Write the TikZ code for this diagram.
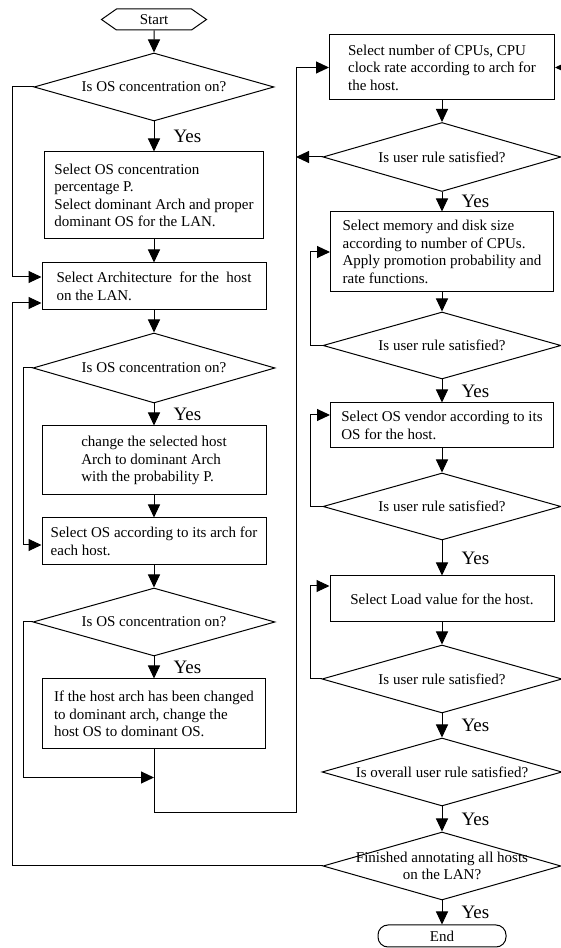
\documentclass[tikz,border=0pt]{standalone}
\usepackage{fontspec}
\setmainfont{Liberation Serif}
\usetikzlibrary{arrows.meta, positioning, shapes.geometric, shapes.symbols}

\begin{document}
\begin{tikzpicture}[x=1pt, y=1pt, on grid, line width=1pt,
    >={Triangle[length=13pt, width=12pt]},
    every node/.style={font=\fontsize{15}{17.5}\selectfont},
    terminal/.style={draw, signal, signal to=east and west, signal pointer angle=70,
        minimum width=105pt, minimum height=21pt, inner sep=0pt},
    stop/.style={draw, rounded corners=10pt, minimum width=128pt, minimum height=22pt, inner sep=0pt},
    box/.style={draw, rectangle, align=left, inner sep=0pt},
    decision/.style={draw, diamond, aspect=3.5, align=center, inner sep=0pt,
        minimum width=240pt, minimum height=68pt},
    yes/.style={right, inner sep=0pt, xshift=19pt, font=\fontsize{19}{19}\selectfont}]
    \useasboundingbox (0,0) rectangle (561,948);
    \clip (0,0) rectangle (561,948);

    \node[terminal] (s_0) at (154,928.5) {Start};
    \node[decision] (d_1) [below=67.5pt of s_0] {Is OS concentration on?};
    \node[box, minimum width=219pt, minimum height=87pt] (p_1) [below=108.5pt of d_1]
        {Select OS concentration\\percentage P.\\Select dominant Arch and proper\\dominant OS for the LAN.};
    \node[box, minimum width=224pt, minimum height=47pt] (p_2) [below=91pt of p_1]
        {Select Architecture~ for the~ host\\on the LAN.};
    \node[decision, minimum width=242pt, minimum height=70pt] (d_2) [below=81.5pt of p_2] {Is OS concentration on?};
    \node[box, minimum width=224pt, minimum height=69pt] (p_3) [below=92.5pt of d_2]
        {change the selected host\\Arch to dominant Arch\\with the probability P.};
    \node[box, minimum width=224pt, minimum height=47pt] (p_4) [below=81pt of p_3]
        {Select OS according to its arch for\\each host.};
    \node[decision, minimum width=242pt] (d_3) [below=80.5pt of p_4] {Is OS concentration on?};
    \node[box, minimum width=223pt, minimum height=70pt] (p_5) [below=92pt of d_3]
        {If the host arch has been changed\\to dominant arch, change the\\host OS to dominant OS.};

    \node[box, minimum width=225pt, minimum height=65pt] (p_6) at (442,880.5)
        {Select number of CPUs, CPU\\clock rate according to arch for\\the host.};
    \node[decision, minimum width=238pt, minimum height=69pt] (d_4) [below=89.5pt of p_6] {Is user rule satisfied?};
    \node[box, minimum width=223pt, minimum height=80pt] (p_7) [below=95pt of d_4]
        {Select memory and disk size\\according to number of CPUs.\\Apply promotion probability and\\rate functions.};
    \node[decision, minimum width=238pt, minimum height=67pt] (d_5) [below=93.5pt of p_7] {Is user rule satisfied?};
    \node[box, minimum width=223pt, minimum height=45pt] (p_8) [below=80pt of d_5]
        {Select OS vendor according to its\\OS for the host.};
    \node[decision, minimum width=238pt, minimum height=67pt] (d_6) [below=81pt of p_8] {Is user rule satisfied?};
    \node[box, minimum width=224pt, minimum height=46pt] (p_9) [below=92.5pt of d_6] {Select Load value for the host.};
    \node[decision] (d_7) [below=80pt of p_9] {Is user rule satisfied?};
    \node[decision] (d_8) [below=93pt of d_7] {Is overall user rule satisfied?};
    \node[decision, minimum width=238pt, inner sep=-14pt] (d_9) [below=94pt of d_8]
        {Finished annotating all hosts\\on the LAN?};
    \node[stop] (e_0) [below=70pt of d_9] {End};

    \coordinate (r_1) at (12,0);
    \coordinate (r_2) at (23,0);
    \coordinate (r_3) at (296,0);
    \coordinate (r_4) at (310,0);
    \coordinate (j_1) at ([yshift=-28pt]p_5.south);
    \coordinate (j_2) at ([yshift=-63pt]p_5.south);
    \coordinate (t_0) at ([xshift=25pt]p_6.east);

    \path[->]
    (s_0) edge (d_1)
    (d_1) edge node[yes] {Yes} (p_1)
    (p_1) edge (p_2)
    (p_2) edge (d_2)
    (d_2) edge node[yes] {Yes} (p_3)
    (p_3) edge (p_4)
    (p_4) edge (d_3)
    (d_3) edge node[yes] {Yes} (p_5)
    (p_6) edge (d_4)
    (d_4) edge node[yes] {Yes} (p_7)
    (p_7) edge (d_5)
    (d_5) edge node[yes] {Yes} (p_8)
    (p_8) edge (d_6)
    (d_6) edge node[yes] {Yes} (p_9)
    (p_9) edge (d_7)
    (d_7) edge node[yes] {Yes} (d_8)
    (d_8) edge node[yes] {Yes} (d_9)
    (d_9) edge node[yes] {Yes} (e_0);

    \draw[->] (d_1.west) -- (d_1.west -| r_1) |- ([yshift=9.5pt]p_2.west);
    \draw[->] (d_9.west) -- (d_9.west -| r_1) |- ([yshift=-16.5pt]p_2.west);
    \draw[->] (d_2.west) -- (d_2.west -| r_2) |- ([yshift=-3.5pt]p_4.west);
    \draw[->] (d_3.west) -- (d_3.west -| r_2) |- (j_1);
    \draw[->] (p_5.south) -- (j_2) -- (j_2 -| r_3) |- (p_6.west);
    \draw[->] (d_4.west) -- (d_4.west -| r_3);
    \draw[->] (d_5.west) -- (d_5.west -| r_4) |- (p_7.west);
    \draw[->] (d_6.west) -- (d_6.west -| r_4) |- ([yshift=10.5pt]p_8.west);
    \draw[->] (d_7.west) -- (d_7.west -| r_4) |- ([yshift=13pt]p_9.west);
    \draw[->] (t_0) -- (p_6.east);
\end{tikzpicture}
\end{document}
